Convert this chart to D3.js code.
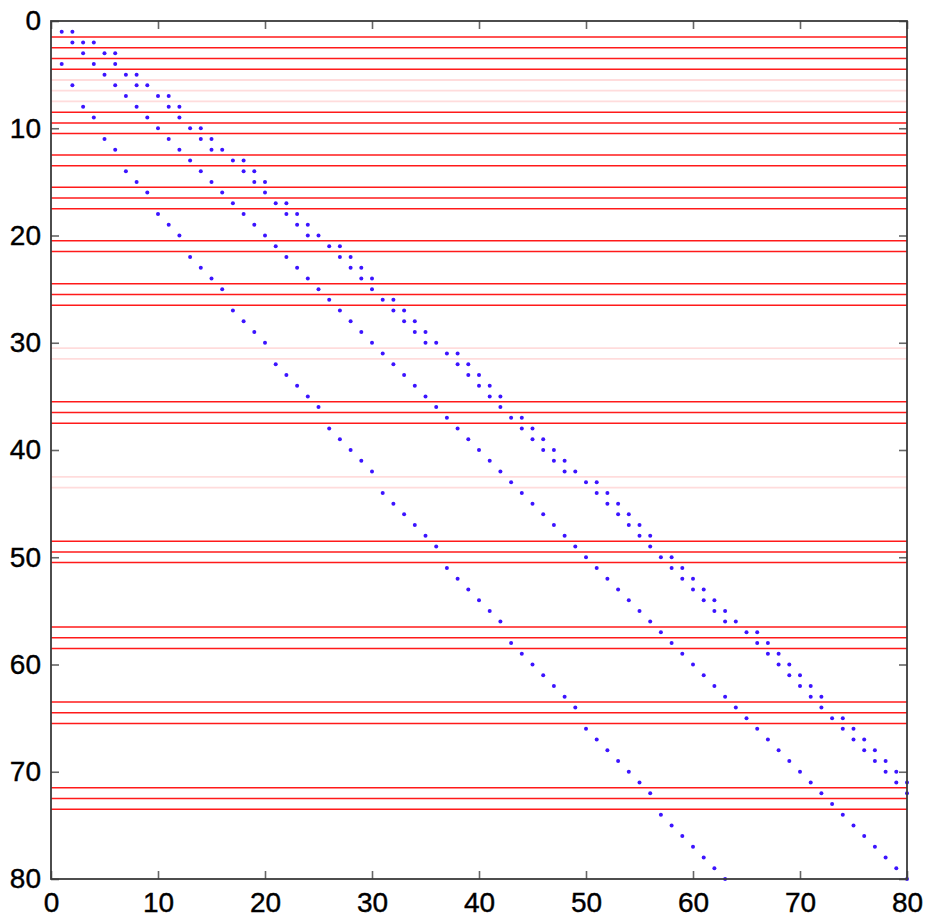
<!DOCTYPE html>
<html>
<head>
<meta charset="utf-8">
<script src="https://cdn.jsdelivr.net/npm/d3@7"></script>
<style>
  body { margin: 0; background: #fff; }
  svg text { font-family: "Liberation Sans", Arial, Helvetica, sans-serif; }
</style>
</head>
<body>
<div id="chart"></div>
<script>
// nonzero columns of each row (row 1 .. row 80)
const rowCols = [
  [1,2], [2,3,4], [3,5,6], [1,4,6], [5,7,8], [2,6,8,9], [7,10,11], [3,8,11,12],
  [4,9,12], [10,13,14], [5,11,14,15], [6,12,15,16], [13,17,18], [7,14,18,19],
  [8,15,19,20], [9,16,20], [17,21,22], [10,18,22,23], [11,19,23,24], [12,20,24,25],
  [21,26,27], [13,22,27,28], [14,23,28,29], [15,24,29,30], [16,25,30], [26,31,32],
  [17,27,32,33], [18,28,33,34], [19,29,34,35], [20,30,35,36], [31,37,38],
  [21,32,38,39], [22,33,39,40], [23,34,40,41], [24,35,41,42], [25,36,42],
  [37,43,44], [26,38,44,45], [27,39,45,46], [28,40,46,47], [29,41,47,48],
  [30,42,48,49], [43,50,51], [31,44,51,52], [32,45,52,53], [33,46,53,54],
  [34,47,54,55], [35,48,55,56], [36,49,56], [50,57,58], [37,51,58,59],
  [38,52,59,60], [39,53,60,61], [40,54,61,62], [41,55,62,63], [42,56,63,64],
  [57,65,66], [43,58,66,67], [44,59,67,68], [45,60,68,69], [46,61,69,70],
  [47,62,70,71], [48,63,71,72], [49,64,72], [65,73,74], [50,66,74,75],
  [51,67,75,76], [52,68,76,77], [53,69,77,78], [54,70,78,79], [55,71,79,80],
  [56,72,80], [73], [57,74], [58,75], [59,76], [60,77], [61,78], [62,79], [63,80]
];

// horizontal marker lines
const redLines = [1.5, 2.5, 3.5, 4.5, 8.5, 9.5, 10.5, 12.5, 13.5, 15.5, 16.5, 17.5,
  20.5, 21.5, 24.5, 25.5, 26.5, 35.5, 36.5, 37.5, 48.5, 49.5, 50.5, 56.5, 57.5, 58.5,
  63.5, 64.5, 65.5, 71.5, 72.5, 73.5];
const paleLines = [5.5, 6.5, 7.5, 30.5, 31.5, 42.5, 43.5];

const ticks = [0, 10, 20, 30, 40, 50, 60, 70, 80];

// set the dimensions and margins of the graph
const margin = {top: 21, left: 51};
const width = 927, height = 918;
const plotW = 856, plotH = 858;

const svg = d3.select("#chart")
    .append("svg")
    .attr("width", width)
    .attr("height", height);

const x = d3.scaleLinear().domain([0, 80]).range([margin.left, margin.left + plotW]);
const y = d3.scaleLinear().domain([0, 80]).range([margin.top, margin.top + plotH]);

// flatten to points
const points = [];
rowCols.forEach((cols, i) => {
    cols.forEach(c => points.push({row: i + 1, col: c}));
});

// lines
svg.append("g")
    .selectAll("line")
    .data(paleLines)
    .join("line")
    .attr("x1", x(0)).attr("x2", x(80))
    .attr("y1", d => y(d)).attr("y2", d => y(d))
    .attr("stroke", "#ffdcdc")
    .attr("stroke-width", 1.8);

svg.append("g")
    .selectAll("line")
    .data(redLines)
    .join("line")
    .attr("x1", x(0)).attr("x2", x(80))
    .attr("y1", d => y(d)).attr("y2", d => y(d))
    .attr("stroke", "#ff1a1a")
    .attr("stroke-width", 1.5);

// dots
svg.append("g")
    .selectAll("circle")
    .data(points)
    .join("circle")
    .attr("cx", d => x(d.col))
    .attr("cy", d => y(d.row))
    .attr("r", 2)
    .attr("fill", "#3c14ff");

// axes, ticks pointing inward
const fontSize = 28;
svg.append("g")
    .attr("transform", `translate(0,${y(80)})`)
    .call(d3.axisBottom(x).tickValues(ticks).tickSize(-8).tickPadding(13));
svg.append("g")
    .attr("transform", `translate(${x(0)},0)`)
    .call(d3.axisLeft(y).tickValues(ticks).tickSize(-8).tickPadding(10));
svg.append("g")
    .attr("transform", `translate(0,${y(0)})`)
    .call(d3.axisTop(x).tickValues(ticks).tickSize(-8).tickFormat(""));
svg.append("g")
    .attr("transform", `translate(${x(80)},0)`)
    .call(d3.axisRight(y).tickValues(ticks).tickSize(-8).tickFormat(""));

svg.selectAll(".domain").remove();
svg.selectAll(".tick line").attr("stroke", "#666").attr("stroke-width", 1.6);
svg.selectAll(".tick text")
    .attr("fill", "#000")
    .attr("stroke", "#000")
    .attr("stroke-width", 0.4)
    .style("font-size", fontSize + "px");

// frame
svg.append("rect")
    .attr("x", x(0)).attr("y", y(0))
    .attr("width", plotW).attr("height", plotH)
    .attr("fill", "none")
    .attr("stroke", "#3a3a3a")
    .attr("stroke-width", 1.8);
</script>
</body>
</html>
